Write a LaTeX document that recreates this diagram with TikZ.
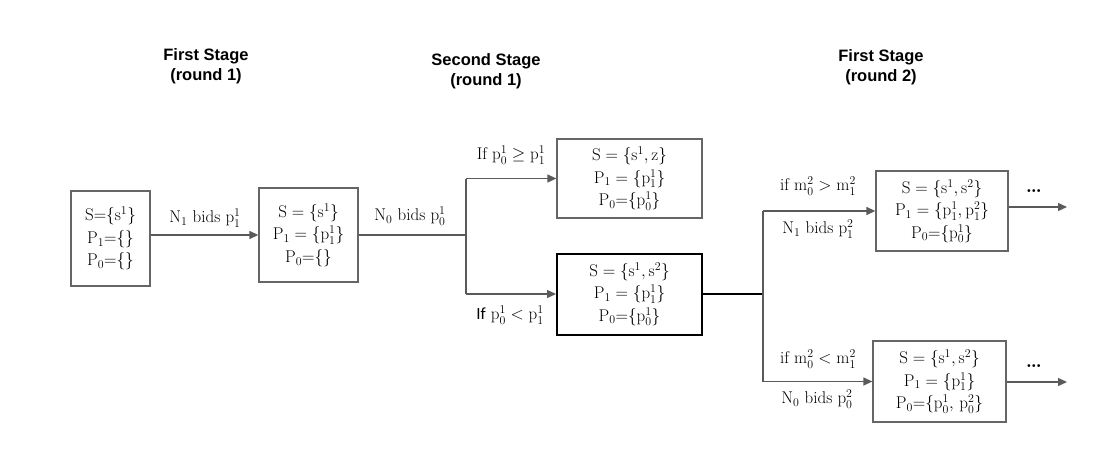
\documentclass[tikz,border=0pt]{standalone}
\usepackage{fontspec}
\newfontfamily\titlefont{Liberation Sans}
\newfontfamily\ifsansfont{Carlito}
\usetikzlibrary{arrows.meta}
\definecolor{linegray}{HTML}{5A5A5A}
\definecolor{boxgray}{HTML}{666666}
\begin{document}
\begin{tikzpicture}[x=1pt,y=-1pt,
  box/.style={draw=boxgray,line width=1.3pt,align=center,inner sep=0pt,
    font=\fontsize{17}{22.5}\selectfont},
  boldbox/.style={box,draw=black,line width=2pt},
  lbl/.style={inner sep=0pt,font=\fontsize{17}{20}\selectfont},
  ttl/.style={align=center,inner sep=0pt,font=\titlefont\bfseries\fontsize{16.5}{20}\selectfont},
  conn/.style={draw=linegray,line width=1.3pt},
  arr/.style={conn,-{Triangle[length=9pt,width=8pt]}},
  boldconn/.style={draw=black,line width=2pt}
]
\useasboundingbox (0,0) rectangle (1120,460);

% titles
\node[ttl] (t1) at (206,66) {First Stage\\(round 1)};
\node[ttl] (t2) at (486,71) {Second Stage\\(round 1)};
\node[ttl] (t3) at (881,67) {First Stage\\(round 2)};

% boxes
\node[box,minimum width=79pt,minimum height=95pt] (A) at (110.5,238.5)
  {$\mathrm{S{=}\{s^1\}}$\\$\mathrm{P_1{=}\{\}}$\\$\mathrm{P_0{=}\{\}}$};
\node[box,minimum width=99pt,minimum height=94pt] (B) at (308.5,235)
  {$\mathrm{S = \{s^1\}}$\\$\mathrm{P_1 = \{p_1^1\}}$\\$\mathrm{P_0{=}\{\}}$};
\node[box,minimum width=145pt,minimum height=79pt] (C) at (629.5,178.5)
  {$\mathrm{S = \{s^1, z\}}$\\$\mathrm{P_1 = \{p_1^1\}}$\\$\mathrm{P_0{=}\{p_0^1\}}$};
\node[boldbox,minimum width=145pt,minimum height=81pt] (D) at (629.5,294)
  {$\mathrm{S = \{s^1, s^2\}}$\\$\mathrm{P_1 = \{p_1^1\}}$\\$\mathrm{P_0{=}\{p_0^1\}}$};
\node[box,minimum width=132pt,minimum height=80pt] (E) at (942,211)
  {$\mathrm{S = \{s^1, s^2\}}$\\$\mathrm{P_1 = \{p_1^1, p_1^2\}}$\\$\mathrm{P_0{=}\{p_0^1\}}$};
\node[box,minimum width=133pt,minimum height=81pt] (F) at (939.5,381.5)
  {$\mathrm{S = \{s^1, s^2\}}$\\$\mathrm{P_1 = \{p_1^1\}}$\\$\mathrm{P_0{=}\{p_0^1,\, p_0^2\}}$};

% junctions
\coordinate (j1) at (466,235);
\coordinate (j2) at (763,0);
\coordinate (e1) at (1067,207);
\coordinate (f1) at (1067,382);

% connectors
\draw[arr] (A.east |- B.west) -- (B.west);
\draw[conn] (B.east) -- (j1);
\draw[conn] (j1 |- C.west) -- (j1 |- D.west);
\draw[arr] (j1 |- C.west) -- (C.west);
\draw[arr] (j1 |- D.west) -- (D.west);
\draw[boldconn] (D.east) -- (j2 |- D.east);
\draw[conn] (j2 |- E.west) -- (j2 |- F.west);
\draw[arr] (j2 |- E.west) -- (E.west);
\draw[arr] (j2 |- F.west) -- (F.west);
\draw[arr] (E.east |- e1) -- (e1);
\draw[arr] (F.east |- f1) -- (f1);

% labels
\node[lbl] (l1) at (205,218) {$\mathrm{N_1}$ bids $\mathrm{p_1^1}$};
\node[lbl] (l2) at (410,216) {$\mathrm{N_0}$ bids $\mathrm{p_0^1}$};
\node[lbl] (l3) at (511,155) {If $\mathrm{p_0^1 \geq p_1^1}$};
\node[lbl] (l4) at (510,315) {{\ifsansfont If} $\mathrm{p_0^1 < p_1^1}$};
\node[lbl] (l5) at (818,186) {if $\mathrm{m_0^2 > m_1^2}$};
\node[lbl] (l6) at (818,229) {$\mathrm{N_1}$ bids $\mathrm{p_1^2}$};
\node[lbl] (l7) at (818,359) {if $\mathrm{m_0^2 < m_1^2}$};
\node[lbl] (l8) at (817,399) {$\mathrm{N_0}$ bids $\mathrm{p_0^2}$};
\node[lbl,font=\fontsize{20}{20}\selectfont\bfseries] (d1) at (1034,191) {\dots};
\node[lbl,font=\fontsize{20}{20}\selectfont\bfseries] (d2) at (1034,366) {\dots};
\end{tikzpicture}
\end{document}
